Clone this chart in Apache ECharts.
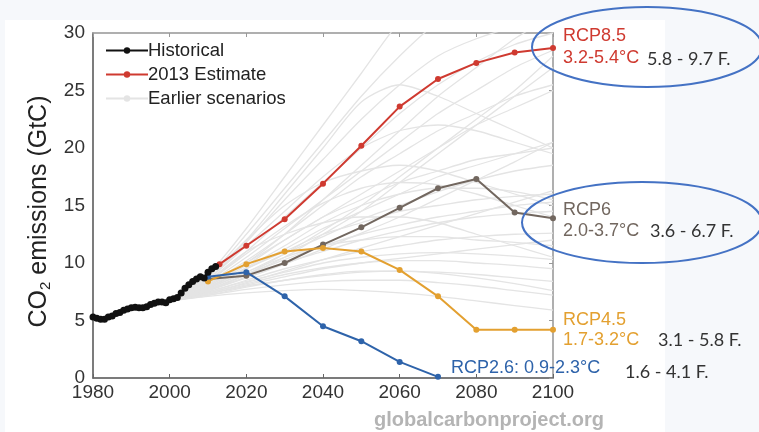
<!DOCTYPE html>
<html><head><meta charset="utf-8">
<script src="https://cdn.jsdelivr.net/npm/echarts@6/dist/echarts.min.js"></script>
<style>html,body{margin:0;padding:0;background:#f6f8fb}#c{width:759px;height:432px}</style>
</head><body><div id="c"></div>
<script>
// ---- DATA ----
const histYears = [1980,1981,1982,1983,1984,1985,1986,1987,1988,1989,1990,1991,1992,1993,1994,1995,1996,1997,1998,1999,2000,2001,2002,2003,2004,2005,2006,2007,2008,2009,2010,2011,2012];
const histValues = [5.3,5.2,5.1,5.1,5.3,5.4,5.6,5.7,5.9,6.0,6.1,6.15,6.1,6.1,6.2,6.4,6.5,6.6,6.6,6.55,6.8,6.9,7.0,7.4,7.8,8.1,8.4,8.6,8.8,8.7,9.2,9.5,9.7];

const rcp85Years = [2013,2020,2030,2040,2050,2060,2070,2080,2090,2100];
const rcp85Values = [9.9,11.5,13.8,16.9,20.2,23.6,26.0,27.4,28.3,28.7];

const rcpYears = [2010,2020,2030,2040,2050,2060,2070,2080,2090,2100];
const rcp6Values = [8.6,8.9,10.0,11.6,13.1,14.8,16.5,17.3,14.4,13.9];
const rcp45Values = [8.4,9.9,11.0,11.3,11.0,9.4,7.1,4.2,4.2,4.2];
const rcp26Years = [2010,2020,2030,2040,2050,2060,2070];
const rcp26Values = [8.8,9.2,7.1,4.5,3.2,1.4,0.1];

const scenYears = [2000,2010,2020,2030,2040,2050,2060,2070,2080,2090,2100];
const scen01 = [6.7,8.8,12.5,16.5,20.5,24.5,28,31,33,35,36];
const scen02 = [6.7,8.6,11.8,15.5,19,22.5,25.5,28,29.5,30.5,31];
const scen03 = [6.7,8.4,11,14,17,20,23,25.5,27.5,29,30];
const scen04 = [6.7,8.3,10.5,13,15.5,18,20.5,23,25,27,28.5];
const scen05 = [6.7,8.2,10.2,12.5,15,17.5,19.5,21.5,23,24.5,25.5];
const scen06 = [6.7,8.0,9.8,12,14,16,18,20,22,23.5,25];
const scen07 = [6.7,8.1,10,12,14,15.5,17,18,19,19.5,20];
const scen08 = [6.7,7.9,9.5,11.2,13,14.5,16,17.5,18.5,19.5,20.5];
const scen09 = [6.7,7.8,9.2,10.8,12.3,13.8,15,16.2,17.2,18,18.5];
const scen10 = [6.7,7.8,9.5,11,12.5,13.5,14.5,15,15.5,15.8,16];
const scen11 = [6.7,7.7,9,10.3,11.5,12.5,13.3,14,14.5,15,15.3];
const scen12 = [6.7,7.6,8.8,10,11,12,12.8,13.5,14,14.3,14.5];
const scen13 = [6.7,7.8,9.2,10.5,11.5,12,12.3,12.3,12,11.8,11.5];
const scen14 = [6.7,7.5,8.5,9.5,10.3,11,11.5,12,12.3,12.5,12.6];
const scen15 = [6.7,7.5,8.4,9.2,10,10.5,10.8,10.9,10.8,10.6,10.3];
const scen16 = [6.7,7.4,8.2,9,9.6,10,10.2,10.2,10,9.8,9.5];
const scen17 = [6.7,7.3,8,8.5,8.9,9.2,9.3,9.2,9,8.7,8.4];
const scen18 = [6.7,7.2,7.7,8.1,8.4,8.5,8.5,8.3,8,7.6,7.2];
const scen19 = [6.7,7.1,7.4,7.6,7.7,7.6,7.4,7.1,6.7,6.3,5.9];
const scen20 = [6.7,8.5,11,12.5,13.5,14,14,13.5,12.5,11.5,10.5];
const scen21 = [6.7,8.8,12,15,17,18,18.5,18,17,16,15];
const scen22 = [6.7,8.6,11.5,14.5,17.5,20,21.5,22,21.5,20.5,19.5];
const scen23 = [6.7,8.0,10,12.5,15.5,18.5,21.5,24.5,27,29.5,31.5];
const scen24 = [6.7,7.7,9,10.5,12.5,14.5,17,19.5,22,24.5,27];
const scen25 = [6.7,7.6,8.7,9.9,11.2,12.6,14,15.6,17.2,18.8,20.5];
const scen26 = [6.7,7.9,9.6,11.5,13.5,15,16,16.5,16.5,16.2,15.5];
const scen27 = [6.7,7.4,8.3,9.3,10.3,11.3,12.3,13.3,14.3,15.3,16.3];
const scen28 = [6.7,7.3,8.1,8.8,9.5,10,10.4,10.8,11.2,11.6,12];
const scen29 = [6.7,7.2,7.9,8.5,9,9.3,9.3,9.1,8.7,8.2,7.6];
const scen30 = [6.7,9,13,17.5,22,26.5,31,34,36,38,40];
const scen31 = [6.7,8.8,12,16,20,24,25.5,24.5,23,21.5,20];
const scen32 = [6.7,8.4,10.8,13.2,15.2,16.5,17,16.8,16,15,14];
const scen33 = [6.7,7.6,9,10.8,12.8,15,17.5,20,22.5,25,28];
const scenarios = [scen01,scen02,scen03,scen04,scen05,scen06,scen07,scen08,scen09,scen10,scen11,scen12,scen13,scen14,scen15,scen16,scen17,scen18,scen19,scen20,scen21,scen22,scen23,scen24,scen25,scen26,scen27,scen28,scen29,scen30,scen31,scen32,scen33];

const xTicks = {min:1980, max:2100, step:20};
const yTicks = {min:0, max:30, step:5};

// ---- CHART ----
const pair = (xs, vs) => xs.map((x,i)=>[x, vs[i]]);
const C = {red:'#cf3a30', brown:'#72675f', orange:'#e3a030', blue:'#2e63aa', black:'#111'};
const FONT = '"Liberation Sans", Arial, sans-serif';

const series = [];
scenarios.forEach((s)=>{
  series.push({name:'Earlier scenarios', type:'line', data:pair(scenYears,s), symbol:'none', smooth:0.25,
    lineStyle:{color:'#e4e4e4', width:1.3}, itemStyle:{color:'#e4e4e4'}, silent:true, z:1});
});
const mk = (name, xs, vs, color, z, size, w) => ({name, type:'line', data:pair(xs,vs), symbol:'circle', symbolSize:size||6,
  lineStyle:{color, width:w||2}, itemStyle:{color}, z, silent:true});
series.push(mk('RCP6', rcpYears, rcp6Values, C.brown, 3));
series.push(mk('RCP4.5', rcpYears, rcp45Values, C.orange, 3));
series.push(mk('RCP2.6', rcp26Years, rcp26Values, C.blue, 3));
series.push(mk('2013 Estimate', rcp85Years, rcp85Values, C.red, 4));
series.push(mk('Historical', histYears, histValues, C.black, 5, 7, 2.5));

const txt = (x,y,text,color,size,extra) => Object.assign({type:'text', x, y, z:100,
  style:{text, fill:color, font:(extra&&extra.weight||'normal')+' '+size+'px '+(extra&&extra.family||FONT), textVerticalAlign:'middle', textAlign:(extra&&extra.align)||'left'}});
const fFont = {family:'Lato, "Open Sans", sans-serif'};

const chart = echarts.init(document.getElementById('c'));
chart.setOption({
  backgroundColor:'#f6f8fb',
  animation:false,
  grid:{left:93, right:206, top:33, bottom:54, containLabel:false, show:true, borderColor:'#aaa', borderWidth:1.5, backgroundColor:'rgba(0,0,0,0)'},
  legend:{data:['Historical','2013 Estimate','Earlier scenarios'], orient:'vertical', left:100, top:36,
    itemWidth:42, itemHeight:8, itemGap:5, selectedMode:false,
    textStyle:{fontSize:18.5, color:'#222', fontFamily:FONT, padding:[0,0,0,-5]}},
  xAxis:[
    {type:'value', min:xTicks.min, max:xTicks.max, interval:xTicks.step, position:'bottom',
      axisLine:{show:true, onZero:false, lineStyle:{color:'#666', width:1.5}}, splitLine:{show:false},
      axisTick:{show:true, inside:true, length:4, lineStyle:{color:'#666'}},
      axisLabel:{fontSize:19, color:'#333', margin:5, fontFamily:FONT, formatter:(v)=>String(v)}},
    {type:'value', min:xTicks.min, max:xTicks.max, interval:xTicks.step, position:'top',
      axisLine:{show:true, onZero:false, lineStyle:{color:'#aaa', width:1.5}}, splitLine:{show:false},
      axisTick:{show:true, inside:true, length:4, lineStyle:{color:'#999'}}, axisLabel:{show:false}}
  ],
  yAxis:[
    {type:'value', min:yTicks.min, max:yTicks.max, interval:yTicks.step, position:'left',
      axisLine:{show:true, onZero:false, lineStyle:{color:'#666', width:1.5}}, splitLine:{show:false},
      axisTick:{show:false},
      axisLabel:{fontSize:19, color:'#333', margin:8, fontFamily:FONT},
      name:'{a|CO}{s|2}{a| emissions (GtC)}', nameLocation:'middle', nameGap:36, nameRotate:90,
      nameTextStyle:{padding:[0,0,0,-12], rich:{a:{fontSize:25, color:'#222', fontFamily:FONT},
        s:{fontSize:15, color:'#222', verticalAlign:'bottom', padding:[12,0,0,0], fontFamily:FONT}}}},
    {type:'value', min:yTicks.min, max:yTicks.max, interval:yTicks.step, position:'right',
      axisLine:{show:true, onZero:false, lineStyle:{color:'#aaa', width:1.5}}, splitLine:{show:false},
      axisTick:{show:true, inside:true, length:4, lineStyle:{color:'#999'}}, axisLabel:{show:false}}
  ],
  series,
  graphic:[
    {type:'rect', shape:{x:5, y:20, width:660, height:412}, style:{fill:'#ffffff'}, z:-10, silent:true},
    txt(563,36,'RCP8.5',C.red,18),
    txt(563,58,'3.2-5.4°C',C.red,18),
    txt(647,59,'5.8 - 9.7 F.','#333',18,fFont),
    txt(563,210,'RCP6',C.brown,18),
    txt(563,231,'2.0-3.7°C',C.brown,18),
    txt(650,231,'3.6 - 6.7 F.','#333',18,fFont),
    txt(563,320,'RCP4.5',C.orange,18),
    txt(563,340,'1.7-3.2°C',C.orange,18),
    txt(658,340,'3.1 - 5.8 F.','#333',18,fFont),
    txt(451,368,'RCP2.6: 0.9-2.3°C',C.blue,18),
    txt(625,372,'1.6 - 4.1 F.','#333',18,fFont),
    txt(489,420,'globalcarbonproject.org','#b4b4b4',20,{weight:'bold', align:'center'}),
    {type:'ellipse', shape:{cx:647, cy:47, rx:115, ry:40}, style:{fill:'none', stroke:'#4472c4', lineWidth:2}, z:101, silent:true},
    {type:'ellipse', shape:{cx:642, cy:222.5, rx:120, ry:40.5}, style:{fill:'none', stroke:'#4472c4', lineWidth:2}, z:101, silent:true}
  ]
});
</script></body></html>
